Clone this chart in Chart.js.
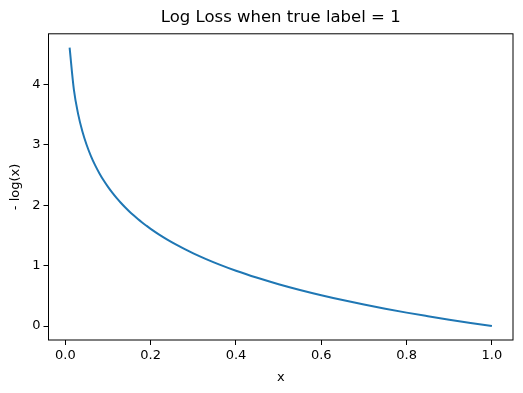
<!DOCTYPE html>
<html>
<head>
<meta charset="utf-8">
<script src="https://cdn.jsdelivr.net/npm/chart.js@4"></script>
<style>
  html, body { margin: 0; padding: 0; background: #fff; }
  #wrap { width: 523px; height: 393px; }
</style>
</head>
<body>
<div id="wrap"><canvas id="chart" width="523" height="393"></canvas></div>
<script>
const xValues = [0.01, 0.02, 0.03, 0.04, 0.05, 0.06, 0.07, 0.08, 0.09, 0.10,
  0.11, 0.12, 0.13, 0.14, 0.15, 0.16, 0.17, 0.18, 0.19, 0.20,
  0.22, 0.24, 0.26, 0.28, 0.30, 0.33, 0.36, 0.40, 0.45, 0.50,
  0.55, 0.60, 0.65, 0.70, 0.75, 0.80, 0.85, 0.90, 0.95, 1.00]
const lossValues = [4.605, 3.912, 3.507, 3.219, 2.996, 2.813, 2.659, 2.526, 2.408, 2.303,
  2.207, 2.120, 2.040, 1.966, 1.897, 1.833, 1.772, 1.715, 1.661, 1.609,
  1.514, 1.427, 1.347, 1.273, 1.204, 1.109, 1.022, 0.916, 0.799, 0.693,
  0.598, 0.511, 0.431, 0.357, 0.288, 0.223, 0.163, 0.105, 0.051, 0.000]
const xTicks = [0.0, 0.2, 0.4, 0.6, 0.8, 1.0]
const yTicks = [0, 1, 2, 3, 4]

const font = { family: 'DejaVu Sans', size: 13 }

const frame = {
  id: 'frame',
  afterDraw(chart) {
    const { ctx, chartArea: a } = chart
    ctx.save()
    ctx.strokeStyle = '#000'
    ctx.lineWidth = 1
    ctx.strokeRect(a.left, a.top, a.right - a.left, a.bottom - a.top)
    ctx.restore()
  }
}

new Chart(document.getElementById('chart'), {
  type: 'line',
  data: {
    datasets: [{
      data: xValues.map((x, i) => ({ x, y: lossValues[i] })),
      borderColor: '#1f77b4',
      borderWidth: 2,
      pointRadius: 0,
      fill: false,
      cubicInterpolationMode: 'monotone',
    }],
  },
  options: {
    responsive: false,
    animation: false,
    layout: { padding: { left: 0, right: 10, top: 0, bottom: 0 } },
    plugins: {
      legend: { display: false },
      tooltip: { enabled: false },
      title: {
        display: true,
        text: 'Log Loss when true label = 1',
        fullSize: false,
        color: '#000',
        font: { family: 'DejaVu Sans', size: 16.5, weight: 'normal' },
        padding: { top: 8, bottom: 6 },
      },
    },
    scales: {
      x: {
        type: 'linear',
        min: -0.0395,
        max: 1.0495,
        afterBuildTicks: (s) => { s.ticks = xTicks.map((v) => ({ value: v })) },
        afterFit: (s) => { s.height = 53 },
        grid: { drawOnChartArea: false, drawTicks: true, tickLength: 5, color: '#000' },
        border: { display: false },
        ticks: { color: '#000', font, padding: 3, maxRotation: 0, callback: (v) => v.toFixed(1) },
        title: { display: true, text: 'x', color: '#000', font, padding: { top: 4, bottom: 8 } },
      },
      y: {
        type: 'linear',
        min: -0.23,
        max: 4.835,
        afterBuildTicks: (s) => { s.ticks = yTicks.map((v) => ({ value: v })) },
        afterFit: (s) => { s.width = 48.5 },
        grid: { drawOnChartArea: false, drawTicks: true, tickLength: 5, color: '#000' },
        border: { display: false },
        ticks: { color: '#000', font, padding: 3, callback: (v) => String(v) },
        title: { display: true, text: '- log(x)', color: '#000', font, padding: { top: 8, bottom: 4 } },
      },
    },
  },
  plugins: [frame],
})
</script>
</body>
</html>
